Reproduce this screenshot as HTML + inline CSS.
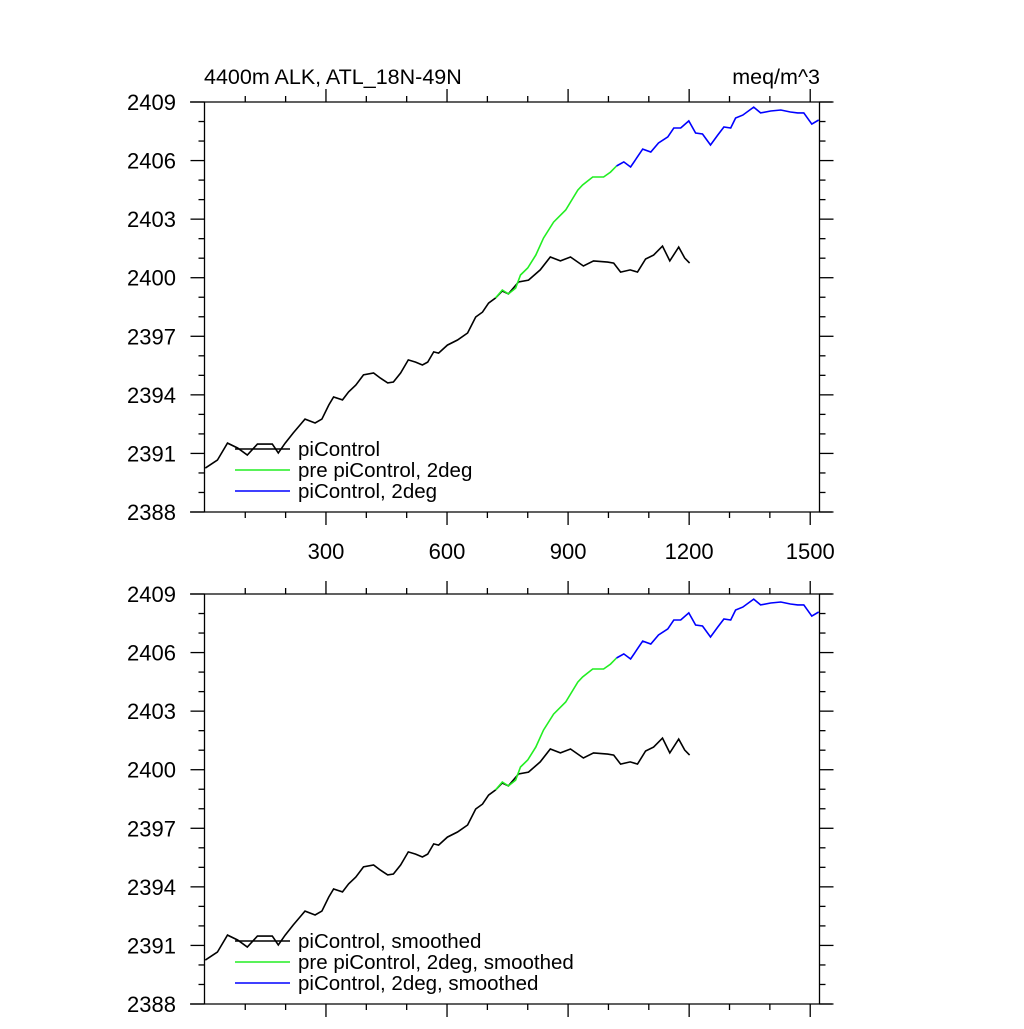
<!DOCTYPE html>
<html><head><meta charset="utf-8"><style>
body{margin:0;background:#fff;}
svg text{font-family:"Liberation Sans",sans-serif;fill:#000;}
</style></head><body>
<svg id="chart" width="1024" height="1024" xmlns="http://www.w3.org/2000/svg"></svg>
<script>
const blackX=[1,31,56,81,105,130,167,182,199,219,236,248,273,290,307,319,341,356,374,393,418,435,453,467,485,504,522,539,552,567,579,601,626,651,671,688,703,720,737,752,777,802,831,856,881,906,938,963,998,1013,1030,1054,1072,1092,1112,1134,1152,1174,1189,1201];
const blackY=[2390.25,2390.66,2391.53,2391.28,2390.92,2391.48,2391.48,2391.02,2391.53,2392.05,2392.46,2392.76,2392.56,2392.76,2393.48,2393.89,2393.74,2394.15,2394.50,2395.02,2395.12,2394.86,2394.61,2394.66,2395.12,2395.79,2395.68,2395.53,2395.68,2396.20,2396.14,2396.55,2396.81,2397.17,2397.99,2398.24,2398.70,2398.96,2399.32,2399.17,2399.78,2399.88,2400.40,2401.06,2400.86,2401.06,2400.60,2400.86,2400.80,2400.75,2400.29,2400.40,2400.29,2400.96,2401.16,2401.62,2400.86,2401.57,2401.01,2400.75];
const greenX=[720,737,752,770,782,800,820,839,864,894,924,936,961,988,1005,1020];
const greenY=[2398.96,2399.37,2399.17,2399.47,2400.14,2400.50,2401.16,2402.03,2402.85,2403.47,2404.49,2404.75,2405.16,2405.16,2405.41,2405.72];
const blueX=[1020,1038,1055,1085,1105,1124,1147,1162,1179,1199,1216,1233,1253,1271,1286,1303,1315,1333,1360,1377,1402,1427,1451,1469,1484,1504,1521];
const blueY=[2405.72,2405.93,2405.67,2406.59,2406.44,2406.90,2407.21,2407.67,2407.67,2408.03,2407.41,2407.36,2406.80,2407.31,2407.72,2407.67,2408.18,2408.33,2408.74,2408.44,2408.54,2408.59,2408.49,2408.44,2408.44,2407.87,2408.08];
const yTicks=[2388,2391,2394,2397,2400,2403,2406,2409];
const xTicks=[300,600,900,1200,1500];
const legendTop=["piControl","pre piControl, 2deg","piControl, 2deg"];
const legendBot=["piControl, smoothed","pre piControl, 2deg, smoothed","piControl, 2deg, smoothed"];

const NS="http://www.w3.org/2000/svg";
const svg=document.getElementById('chart');
const L=204.5,R=819.5,XMIN=-1,XMAX=1523;
function sx(v){return L+(v-XMIN)/(XMAX-XMIN)*(R-L);}
function mk(tag,attrs,parent){const e=document.createElementNS(NS,tag);for(const k in attrs)e.setAttribute(k,attrs[k]);(parent||svg).appendChild(e);return e;}

function panel(top,name,legend,showX){
  const bot=top+410;
  const sy=v=>bot-(v-2388)/21*410;
  const g=mk('g',{});
  
  
  const st={stroke:'#000','stroke-width':1.3,fill:'none'};
  mk('line',Object.assign({x1:190,y1:top,x2:832,y2:top},st),g);
  mk('line',Object.assign({x1:190,y1:bot,x2:832,y2:bot},st),g);
  mk('line',Object.assign({x1:L,y1:top,x2:L,y2:bot},st),g);
  mk('line',Object.assign({x1:R,y1:top,x2:R,y2:bot},st),g);
  for(let v=100;v<=1500;v+=100){
    const maj=v%300===0,len=maj?13:6,x=sx(v);
    mk('line',Object.assign({x1:x,y1:top,x2:x,y2:top-len},st),g);
    mk('line',Object.assign({x1:x,y1:bot,x2:x,y2:bot+len},st),g);
  }
  for(let v=2388;v<=2409;v++){
    const maj=(v-2388)%3===0,len=maj?14:6,y=sy(v);
    mk('line',Object.assign({x1:L,y1:y,x2:L-len,y2:y},st),g);
    mk('line',Object.assign({x1:R,y1:y,x2:R+len,y2:y},st),g);
  }
  yTicks.forEach(v=>{
    const t=mk('text',{x:176,y:sy(v)+8,'text-anchor':'end','font-size':22},g);
    
    
    t.textContent=v;
  });
  if(showX){xTicks.forEach(v=>{
    const t=mk('text',{x:sx(v),y:bot+47,'text-anchor':'middle','font-size':22},g);
    
    
    t.textContent=v;
  });}
  const series=[[blackX,blackY,'#000','picontrol-line'],[greenX,greenY,'#22ee22','pre-picontrol-2deg-line'],[blueX,blueY,'#0000ff','picontrol-2deg-line']];
  series.forEach(([xs,ys,c,n])=>{
    const p=mk('polyline',{points:xs.map((x,i)=>sx(x).toFixed(1)+','+sy(ys[i]).toFixed(1)).join(' '),fill:'none',stroke:c,'stroke-width':1.6},g);
    
    
  });
  const cols=['#000','#22ee22','#0000ff'];
  legend.forEach((s,i)=>{
    const y=top+347+i*21;
    const ln=mk('line',{x1:235,y1:y,x2:290,y2:y,stroke:cols[i],'stroke-width':1.6},g);
    
    
    const t=mk('text',{x:298,y:y+7,'font-size':20.5},g);
    
    
    t.textContent=s;
  });
}
panel(102,'top-panel',legendTop,true);
panel(594,'bottom-panel',legendBot,false);
const t1=mk('text',{x:204,y:84,'font-size':21.5});


t1.textContent='4400m ALK, ATL_18N-49N';
const t2=mk('text',{x:820,y:84,'font-size':21.5,'text-anchor':'end'});


t2.textContent='meq/m^3';
</script>
</body></html>
